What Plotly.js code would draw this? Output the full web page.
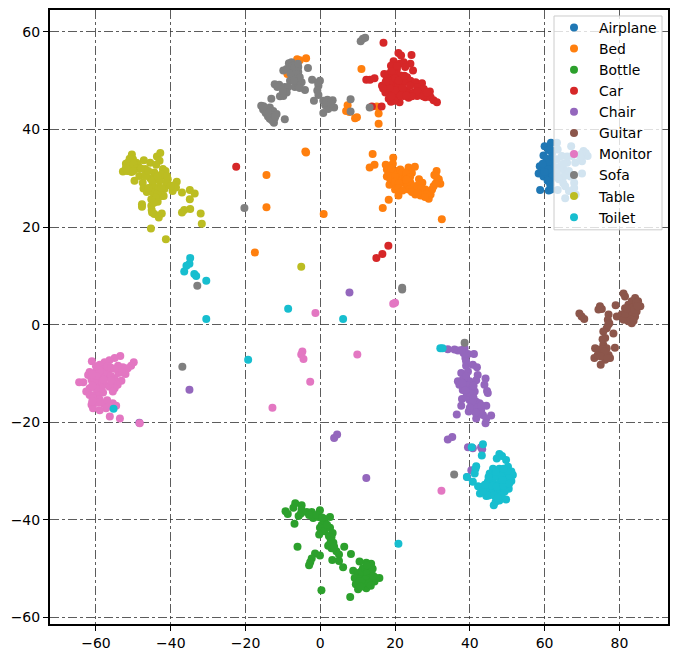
<!DOCTYPE html>
<html><head><meta charset="utf-8">
<script src="https://cdn.plot.ly/plotly-3.0.1.min.js"></script>
<style>html,body{margin:0;padding:0;background:#fff}</style></head>
<body><div id="chart" style="width:678px;height:659px"></div>
<script>
const categories=["Airplane","Bed","Bottle","Car","Chair","Guitar","Monitor","Sofa","Table","Toilet"];
const colors=["#1f77b4","#ff7f0e","#2ca02c","#d62728","#9467bd","#8c564b","#e377c2","#7f7f7f","#bcbd22","#17becf"];
const airplane=[[60,36.6],[61.7,37.3],[59.7,34.7],[62,35.1],[58.7,32.5],[58.4,31],[59.7,30.4],[61.5,29.4],[58.8,27.6],[61.1,27.5],[61.7,27.7],[60.6,32.5],[61.5,33.2],[61.5,31.5],[62.4,32.5],[60.5,34],[61.8,34],[60.8,33.2],[63.3,37.3],[63.5,35.9],[63.3,33.9],[64.6,34.6],[67.1,36.6],[70.4,35.6],[71.5,34.6],[70,33.5],[71,35.2],[69.8,35],[67.3,34.6],[68.2,33.2],[66,33.2],[65.1,31.8],[64.2,32.5],[63.3,31.1],[70,31],[66.9,30.4],[65.1,30.4],[63.8,29.8],[67.9,29.1],[65.5,28.4],[67.9,28],[63.5,27.6],[66.5,27.4],[68.3,26.7],[65.5,25.9],[61.5,28.7],[62.4,30.4],[61.1,30.1],[60.5,31],[60.8,29.5],[61,35.8],[60,32],[59.5,33],[62,31],[61,31.8],[60,31.3],[61.5,36],[69.5,34.5],[65,33],[66,34.5],[65,29],[66.5,31.5]];
const bed=[[-6.2,54.4],[-5.5,54.2],[-3.8,54.6],[-8.8,51.4],[7.3,45],[6.9,43.8],[7.8,43.6],[9.3,42.3],[9.8,42.5],[11,52.4],[15.1,44.7],[15.6,43.3],[15.6,41.2],[-4,35.5],[-3.8,35.3],[-14.4,30.7],[-14.4,24.1],[0.9,22.7],[14,35],[14.5,32.8],[13.2,32.2],[19.5,34.2],[19.4,33],[17.5,32.8],[18.3,25.6],[16.7,23.9],[32.5,21.6],[17.8,31.8],[19.2,31.1],[17.8,30.4],[18.7,29.8],[18.5,28.7],[19.8,29.1],[20.5,31.5],[21.4,31.8],[22.3,30.8],[23.6,32.2],[25.3,32.4],[24.5,31.1],[21.4,29.8],[20.5,28.4],[20,27.7],[20.9,26.5],[22.3,29.1],[23.2,28.4],[24.1,29.1],[25,28.4],[26.4,29.8],[27.3,29.1],[28.1,27.7],[25.9,27.4],[25.4,26.7],[26.8,26.5],[27.7,27],[29,25.8],[29.5,26.7],[29.9,27.7],[31.1,31.5],[30.5,30.7],[31.7,29.8],[32.1,28.9],[31.2,29.1],[30.3,28.4],[23.6,27.7],[21.2,30.4],[22.7,30.1],[-17.5,14.8],[18.5,31],[19,30],[20,30.3],[20,29.3],[21,29],[22,31.3],[23,31],[24,30.2],[21,28],[22,27.5],[24.5,27.2],[26,28.5],[27,28],[28.5,26.8],[28,26.2],[30.8,28.9],[31,30.4],[19,32],[26,27],[23,29.7]];
const bottle=[[-9.3,-38.2],[-8.7,-38.8],[-6.7,-36.6],[-7.2,-37.5],[-5,-37],[-5,-37.9],[-5.8,-39.2],[-5.2,-38.7],[-6.9,-40.8],[-3.6,-38.4],[-2.3,-38.4],[-1.9,-39.6],[-0.1,-38],[-0.5,-39.4],[1.2,-39.8],[2.6,-39.4],[0.4,-41],[-0.1,-41.6],[1.1,-42.3],[2.6,-41.6],[3.3,-42.7],[-0.3,-43],[2.8,-44],[3.5,-44.7],[2.1,-45.3],[3,-45.8],[-6.1,-45.5],[6.4,-45.5],[4.3,-46.4],[5,-47.1],[8.2,-47],[-1.4,-46.9],[-0.1,-47.3],[-2.3,-47.9],[-2.7,-48.7],[-3,-49.3],[3.2,-48.2],[5,-48.4],[6.1,-49.7],[8.8,-50.4],[0.3,-54.4],[8,-55.8],[10.5,-48.5],[12.3,-48.8],[13.6,-49],[11.4,-49.9],[13.2,-50.2],[10.1,-50.9],[11.9,-50.9],[13.6,-51.2],[9.2,-51.9],[11,-51.9],[12.7,-52.1],[14.5,-52.6],[15.8,-51.9],[9.5,-53.2],[11,-53.1],[12.3,-52.9],[13.6,-52.6],[10.1,-54.2],[12.3,-54],[14.8,-51.9],[11,-50.5],[12,-50],[12.5,-51],[13,-52],[12,-52.2],[11.5,-53],[10.5,-52.5],[13,-53],[14,-50],[12.5,-49.3],[14.2,-51.5],[10.8,-53.7],[13.5,-53.5],[2.3,-43.3],[2.5,-45],[3.7,-45.5],[-1,-39],[-3,-39],[1.8,-41],[0.5,-39.5],[3,-43.5]];
const car=[[16.9,57.8],[20.9,55.7],[21.6,55.2],[24.4,55.3],[19.6,54],[18.9,53.1],[21.2,53.5],[22.3,53.8],[24.1,53.5],[22.7,52.8],[24.8,52.1],[20.5,52.4],[17.1,51.4],[18.3,51.4],[19.8,51.4],[12.3,50.2],[13.3,50.2],[14.5,50.5],[17.8,50.4],[19.2,50],[21.4,51.1],[23.2,50.7],[24.1,50],[25.5,49.7],[27.2,49.5],[16.5,49],[17.8,48.7],[19.6,49],[20.9,49.3],[22.3,49.7],[25.9,48.7],[27.7,48.3],[29.3,47.8],[17.4,47.6],[19.2,47.3],[21.4,48],[23.2,48],[25,47.6],[26.8,47.3],[18.3,46.3],[18.9,45.7],[21.2,45.6],[22.3,46.9],[23.6,46.5],[25.9,46.9],[28.1,46.6],[29.5,46.6],[30.3,46],[31.2,45.6],[13.8,44.7],[16.4,44.7],[20.1,46.9],[-22.5,32.4],[18.2,16.2],[16.6,14.5],[15,13.7],[18.5,49.5],[19,52],[20,50.5],[21,50],[22,48.5],[20,48],[18.5,48.5],[24,49],[26,47.8],[24.5,46.8],[21.5,47],[19.8,45.9],[17.5,49.8],[20.5,53],[22.5,51],[23,47],[27.5,46.8],[28.5,47.6],[16.8,48.4],[19,46.8]];
const chair=[[34.1,-5],[35.9,-5.1],[36.8,-5.3],[38.6,-4.8],[38.3,-5.8],[39.5,-6],[41.1,-6],[38.8,-6.8],[39,-8.4],[40.8,-8.2],[41.9,-8.7],[37.7,-9.9],[39.5,-9.6],[42.1,-10.3],[44.2,-11],[36.8,-11.6],[38.1,-11.3],[39.9,-11.6],[37.2,-12.3],[38.6,-12.7],[41.7,-11.4],[43.9,-12.3],[44.6,-13.6],[44.8,-14],[38.1,-13.4],[39.5,-13.7],[41.3,-13.7],[40.8,-14.7],[37.9,-15.2],[39.9,-15.4],[41.7,-15.8],[42.6,-16.1],[37.7,-16.6],[40.4,-16.4],[41.3,-17.1],[44.4,-16.6],[43,-17.5],[39.7,-17.8],[36.5,-18.4],[41.7,-19.2],[43.5,-18.5],[45.7,-18.6],[44.4,-19.2],[44.2,-20.2],[34.1,-23.5],[35.3,-23],[39.5,-25.1],[40.8,-25.3],[43,-25.1],[43.3,-25.5],[40.4,-29.8],[39.3,-31.2],[7.8,6.6],[-35,-13.3],[-48.4,-20.1],[4.5,-22.5],[3.7,-23.2],[12.3,-31.4],[39,-7.5],[38.5,-11],[39,-10.5],[39.5,-12.5],[40.5,-13],[39,-14.8],[40,-14],[41,-15],[40.8,-16],[42,-17],[42.5,-18],[41.5,-18],[43,-16.5],[38.8,-6],[37.8,-5.2],[38,-12],[38.8,-13.5],[41,-12.5],[40,-17]];
const guitar=[[81.1,6.4],[81.5,5.8],[79,4],[84.2,5.5],[85,4.8],[85.6,3.8],[83.3,4.8],[82.4,4.1],[81.5,3.4],[84.2,3.8],[82.9,3.1],[84.6,2.7],[79.3,1.7],[80.6,2.1],[82,2.1],[83.3,2.1],[84.2,1.7],[81.1,1],[82.4,0.7],[83.3,0.3],[74.8,3.8],[75.3,3.2],[74.4,3.1],[69.3,2.3],[69.9,1.7],[70.6,1.2],[77.1,2.1],[76.9,1],[77.3,0.3],[76.6,-0.7],[75.7,-1.4],[78.4,-1.8],[76.2,-2.7],[75.7,-4.1],[73.5,-4.8],[74.8,-5.1],[76.6,-4.8],[78.8,-4.7],[73.3,-6.8],[74.2,-6.2],[75.7,-6.2],[77.1,-6.2],[76.2,-7.2],[77.5,-6.8],[75,-8.2],[83.5,3.5],[82.5,2.5],[84,3],[84.5,4.5],[83,1],[81.5,2.2],[84.8,3.8],[82,3.3],[75.5,-5],[76,-5.5],[75,-6.5],[76.8,-6.8],[74.8,3.4],[75.5,-3],[77,0],[83.8,0.8]];
const monitor=[[-61.1,-7.5],[-53.5,-6.4],[-55,-6.8],[-56.4,-7.3],[-57.7,-7.7],[-59,-8.2],[-49.9,-7.7],[-50.6,-8.4],[-51.5,-8.9],[-52.8,-8.7],[-54.1,-8.4],[-52.1,-10.1],[-61.7,-9.7],[-62.1,-10.3],[-59.9,-9.6],[-58.1,-9.2],[-56.8,-9.6],[-61.2,-11.3],[-64.5,-11.8],[-63.4,-11.8],[-59,-11],[-57.3,-10.6],[-55,-11],[-53.2,-11.5],[-54.2,-12.3],[-55.5,-12],[-57.7,-12.3],[-59.5,-12.3],[-60.4,-11.6],[-55,-13],[-56.4,-12.7],[-55.5,-13.7],[-61.7,-13],[-62.6,-13.7],[-61.7,-14.4],[-60.4,-14.4],[-59,-14],[-58.1,-13.9],[-60.8,-15.1],[-59,-15.3],[-61.2,-16.4],[-60.8,-17.1],[-58.1,-16.1],[-57.3,-17.1],[-59,-17.5],[-55.5,-16.1],[-54.6,-16.6],[-56.3,-18.8],[-53.6,-19.2],[-48.3,-20.2],[-4.8,-5.5],[-5.1,-6.1],[-4.5,-7],[-2.7,-11.7],[-12.8,-17],[9.9,-6.1],[-1.3,2.4],[19.5,4.3],[20,4.5],[32.4,-34],[-58,-10],[-57,-8.5],[-56,-8.8],[-59,-9.5],[-60,-10.5],[-61,-10.2],[-58,-11.3],[-56,-10.5],[-54,-9.9],[-56,-11.5],[-58.6,-13],[-60,-13],[-61,-12.5],[-59.5,-16],[-57,-15.5],[-55,-9],[-53,-9.8],[-60,-8.5],[-56.5,-16.7],[-61,-15.7]];
const sofa=[[-8.4,53.6],[-7.7,53.8],[-6.8,53.3],[-5.9,52.8],[-9.9,52.1],[-9,52.4],[-8.1,52.8],[-7.3,52.1],[-5.9,51.8],[-3.3,52.6],[-6.8,51.1],[-5.5,50.7],[-8.1,50],[-5,49.7],[-6.8,48.7],[-5.9,49],[-4.1,48.1],[-12.2,49.3],[-11,49.2],[-11.5,48.7],[-9.5,48.7],[-8.6,48.7],[-9,47.6],[-10.8,46.8],[-9.9,46.9],[-13.1,46.3],[-15.8,44.9],[-15.3,44.1],[-14.6,43.4],[-14,42.7],[-13.1,42.1],[-12.4,41.4],[-13.5,44.5],[-12.6,43.8],[-11.7,43.2],[-12.2,42.3],[-9.5,42.1],[-14.4,44.2],[-13.5,43.2],[-2.2,50.2],[-0.1,50],[-0.5,49],[-0.8,48],[-0.5,47.1],[-1.7,45.9],[0.8,45.9],[1.9,46.1],[3.3,46],[1.3,45],[2.4,44.7],[3.7,44.5],[0.8,43.4],[2.1,44.2],[8.1,46.2],[8.1,43.7],[13.2,44.5],[10.8,58.1],[11.4,58.6],[12,58.8],[-20.3,23.9],[-32.9,8],[-36.9,-8.6],[21.9,7.6],[21.9,7.2],[35.8,-30.7],[38.6,-3.7],[-7,52.5],[-8,51.5],[-6.5,52],[-7.5,53],[-6,50],[-7,50],[-5.5,48.5],[-14.8,43.8],[-13,43],[-14,43.8],[-13.5,42.2],[-12.8,41.8],[-12,42.8],[-15.2,44.8],[-7,52.8],[1.5,45.5],[2.8,45.3],[-0.6,49.6],[-10,47.8],[-6,53.5]];
const table=[[-50.4,34.9],[-42.8,35.2],[-43.7,34.5],[-43,33.6],[-47.2,33.7],[-45.5,33.2],[-43.9,32.8],[-51.5,33.2],[-50.1,33.9],[-51.9,32.2],[-52.8,31.4],[-51,31.5],[-49.7,31.9],[-48.8,32.9],[-49.2,33.2],[-50.6,32.6],[-51.7,31.5],[-49.7,29.5],[-48.4,30.5],[-46.8,31.9],[-46.6,31.2],[-44.4,31.2],[-42.1,31.9],[-41.4,31.5],[-42.1,30.5],[-40.8,29.8],[-43,29.5],[-44.8,28.8],[-47.5,29.1],[-47.3,27.9],[-46.4,27.2],[-44.4,27.8],[-43.2,28.1],[-41.2,29.1],[-41.7,27.8],[-44.8,27.1],[-42.5,26.4],[-41.9,26.4],[-43.5,25.2],[-45.2,25.7],[-38.4,29.3],[-39,28.6],[-39.5,27.4],[-38.6,28.1],[-37,27.1],[-34.9,27.6],[-33.6,26.9],[-34.9,25.7],[-47.7,24.7],[-47.7,24.2],[-45.2,24.4],[-45.1,23.5],[-44.4,22.7],[-43.2,22],[-42.4,22.8],[-34.8,23.7],[-36.4,23.5],[-37,23],[-32,22.8],[-31.7,20.7],[-45.3,19.7],[-41.3,17.5],[-5.1,11.9],[-52,33],[-51,34],[-50,33],[-50.5,31.3],[-52,32],[-49,32],[-50,31.5],[-48,32],[-45.5,30],[-44,30],[-42.5,30.8],[-46,28],[-45,29.5],[-43.5,27],[-44,26],[-42.5,28],[-40,28.5],[-45,23],[-46.8,30.5],[-43.5,30.5],[-44.5,25],[-41,30.5],[-46,31.5]];
const toilet=[[32.1,-4.8],[32.7,-4.8],[40.5,-25.1],[43.5,-24.5],[43.2,-26.8],[41.7,-29],[41.5,-29.5],[41.3,-30.5],[39.2,-31.2],[40.8,-32.2],[47.9,-26.5],[47.2,-27.4],[48.6,-26.9],[49.7,-27.7],[46.2,-29.5],[47.9,-29.5],[50.2,-29.1],[51.1,-30.1],[51.5,-30.8],[49.3,-30.1],[45.3,-30.5],[46.6,-30.8],[47.9,-31.2],[49.7,-31.2],[51.1,-32],[44.8,-32.2],[46.2,-32.2],[47.9,-32.5],[49.7,-32.5],[50.4,-33.6],[42.2,-33.1],[43.5,-33.2],[44.8,-33.6],[46.4,-33.8],[48.4,-33.8],[42.7,-34.6],[44.4,-35.1],[45.8,-34.6],[47.6,-34.6],[49.3,-34.2],[46.4,-37],[46.9,-36.3],[47.9,-36],[49.7,-35.8],[-34.8,13.7],[-35,12.5],[-35.8,12.1],[-36.4,10.9],[-33.7,10.4],[-33.2,10],[-30.5,9],[-30.5,1.2],[-8.6,3.3],[6.1,1.2],[-19.3,-7.2],[-55.3,-17.2],[20.9,-44.9],[47,-31],[48.5,-30.8],[45,-31.2],[46,-33],[47.2,-33.2],[49,-33],[50.5,-31.5],[45,-35],[46.5,-35],[48.5,-35],[43.5,-34],[50,-30],[47,-30.2],[49,-29.5],[47.5,-35.5],[44,-32.8],[48.8,-31.8],[50.5,-32.6]];
const tickVals=[-60,-40,-20,0,20,40,60,80];
const yTickVals=[-60,-40,-20,0,20,40,60];
const series=[airplane,bed,bottle,car,chair,guitar,monitor,sofa,table,toilet];
const traces=series.map((pts,i)=>({type:"scatter",mode:"markers",name:categories[i],
  x:pts.map(p=>p[0]),y:pts.map(p=>p[1]),marker:{color:colors[i],size:8,line:{width:0}}}));
const ax={showline:true,mirror:true,linewidth:2,linecolor:"#000",ticks:"outside",ticklen:5,tickwidth:1,tickcolor:"#000",
  showgrid:true,gridcolor:"#333",gridwidth:0.8,griddash:"dashdot",zeroline:false,tickfont:{family:"DejaVu Sans",size:14,color:"#000"}};
const W=678,H=659,mL=50,mR=10,mT=10,mB=34.5;
const pw=W-mL-mR,ph=H-mT-mB;
const px=v=>(v-mL)/pw, py=v=>(H-mB-v)/ph;
Plotly.newPlot("chart",traces,{width:W,height:H,margin:{l:mL,r:mR,t:mT,b:mB,pad:0},
  paper_bgcolor:"#fff",plot_bgcolor:"#fff",showlegend:true,
  xaxis:{...ax,range:[-72.3,93],tickvals:tickVals},
  yaxis:{...ax,range:[-61.33,64.5],tickvals:yTickVals},
  shapes:[{type:"rect",layer:"above",xref:"paper",yref:"paper",x0:px(554),x1:px(662),y0:py(230),y1:py(16),
    fillcolor:"rgba(255,255,255,0.8)",line:{color:"#ccc",width:1}}],
  legend:{x:px(549),xanchor:"left",y:py(12),yanchor:"top",bgcolor:"rgba(0,0,0,0)",borderwidth:0,
    font:{family:"DejaVu Sans",size:13.9,color:"#000"},itemclick:false,itemwidth:40}
},{displayModeBar:false,staticPlot:true});
</script></body></html>
